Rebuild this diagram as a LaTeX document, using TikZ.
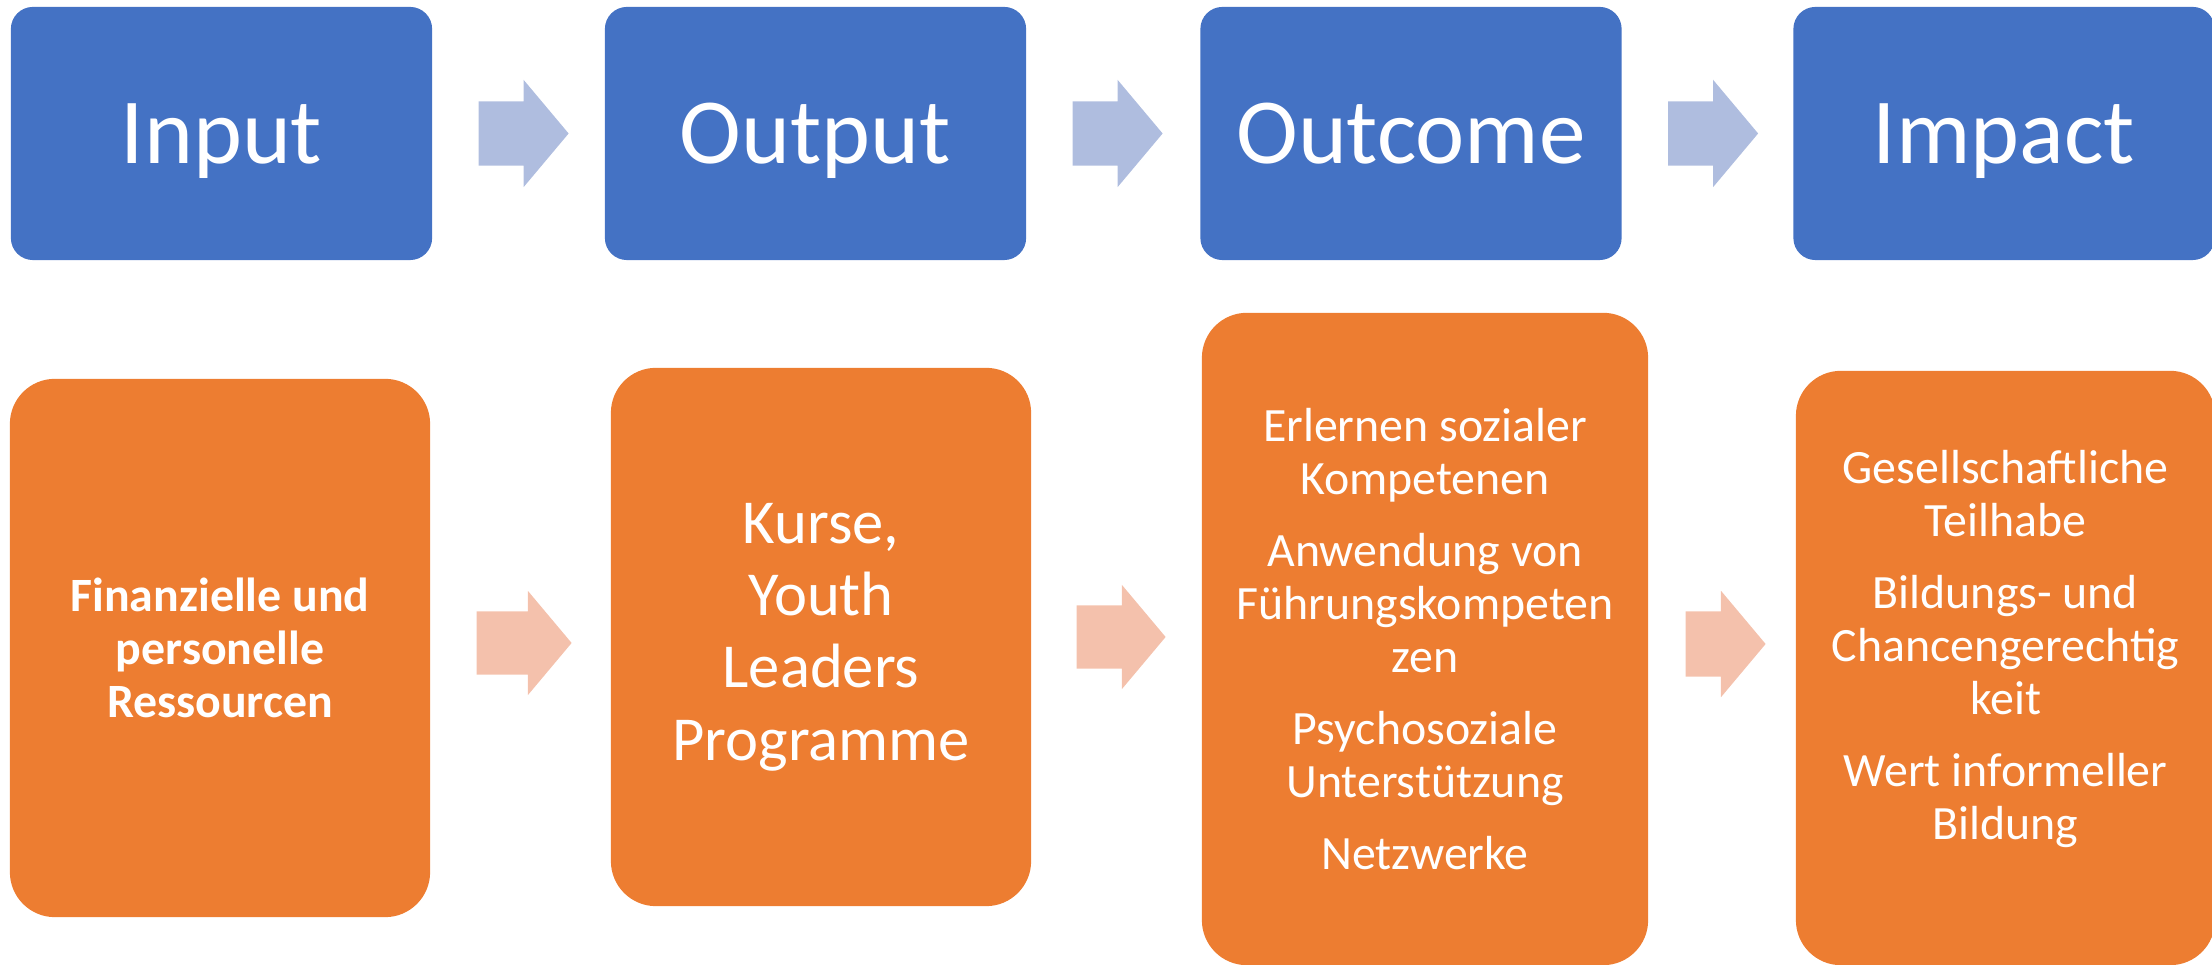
\documentclass[tikz,border=0pt]{standalone}
\usepackage{fontspec}
\setmainfont{Carlito}
\usetikzlibrary{positioning, calc, shapes.arrows}
\definecolor{boxblue}{HTML}{4472C4}
\definecolor{boxorange}{HTML}{ED7D31}
\definecolor{arrowblue}{HTML}{AFBDDF}
\definecolor{arroworange}{HTML}{F4C1AC}
\tikzset{
  stage/.style={rectangle, rounded corners=0.22cm, fill=boxblue, text=white, minimum width=4.21cm, minimum height=2.53cm, font=\fontsize{26.5}{32}\selectfont, text height=17pt, text depth=0pt},
  content/.style={rectangle, rounded corners=0.45cm, fill=boxorange, text=white, align=center, font=\fontsize{13.6}{15.1}\selectfont},
  bodytext/.style={text=white, align=center, font=\fontsize{13.6}{15.1}\selectfont},
  flow/.style={single arrow, inner xsep=0pt, inner ysep=0.315cm, single arrow head extend=0.215cm, single arrow tip angle=100, minimum height=0.9cm}
}

\begin{document}
\begin{tikzpicture}[x=0.01cm, y=-0.01cm]
  \useasboundingbox (0,0) rectangle (2212,965);

  % Stages
  \node[stage] (in) at (221.5,133.5) {Input};
  \node[stage] (out) at (815.5,133.5) {Output};
  \node[stage] (oc) at (1411,133.5) {Outcome};
  \node[stage] (imp) at (2004,133.5) {Impact};

  % Contents
  \node[content, minimum width=4.2cm, minimum height=5.38cm, font=\fontsize{13.6}{15.1}\selectfont\bfseries] (inres) at (220,648) {Finanzielle und\\personelle\\Ressourcen};
  \node[content, minimum width=4.2cm, minimum height=5.38cm, font=\fontsize{17.8}{20.6}\selectfont] (outres) at (821,637) {Kurse,\\Youth\\Leaders\\Programme};
  \node[content, minimum width=4.46cm, minimum height=6.52cm] (ocres) at (1425,639) {Erlernen sozialer\\Kompetenen\\[5.4pt]Anwendung von\\Führungskompeten\\zen\\[5.4pt]Psychosoziale\\Unterstützung\\[5.4pt]Netzwerke};
  \node[content, minimum width=4.19cm, minimum height=5.94cm] (impres) at (2005.5,668) {};
  \node[bodytext] (imptxt) at (2005.5,649) {Gesellschaftliche\\Teilhabe\\[5.4pt]Bildungs- und\\Chancengerechtig\\keit\\[5.4pt]Wert informeller\\Bildung};

  % Arrows
  \node[flow, fill=arrowblue, right=0.45cm of in] (a1) {};
  \node[flow, fill=arrowblue, right=0.45cm of out] (a2) {};
  \node[flow, fill=arrowblue, right=0.45cm of oc] (a3) {};
  \node[flow, fill=arroworange, minimum height=0.95cm, inner ysep=0.31cm, single arrow head extend=0.205cm, right=0.45cm of inres, yshift=0.05cm] (b1) {};
  \node[flow, fill=arroworange, minimum height=0.89cm, inner ysep=0.31cm, single arrow head extend=0.205cm, right=0.44cm of outres] (b2) {};
  \node[flow, fill=arroworange, minimum height=0.8cm, inner ysep=0.32cm, single arrow head extend=0.205cm, right=0.36cm of ocres, yshift=-0.05cm] (b3) {};
\end{tikzpicture}
\end{document}
